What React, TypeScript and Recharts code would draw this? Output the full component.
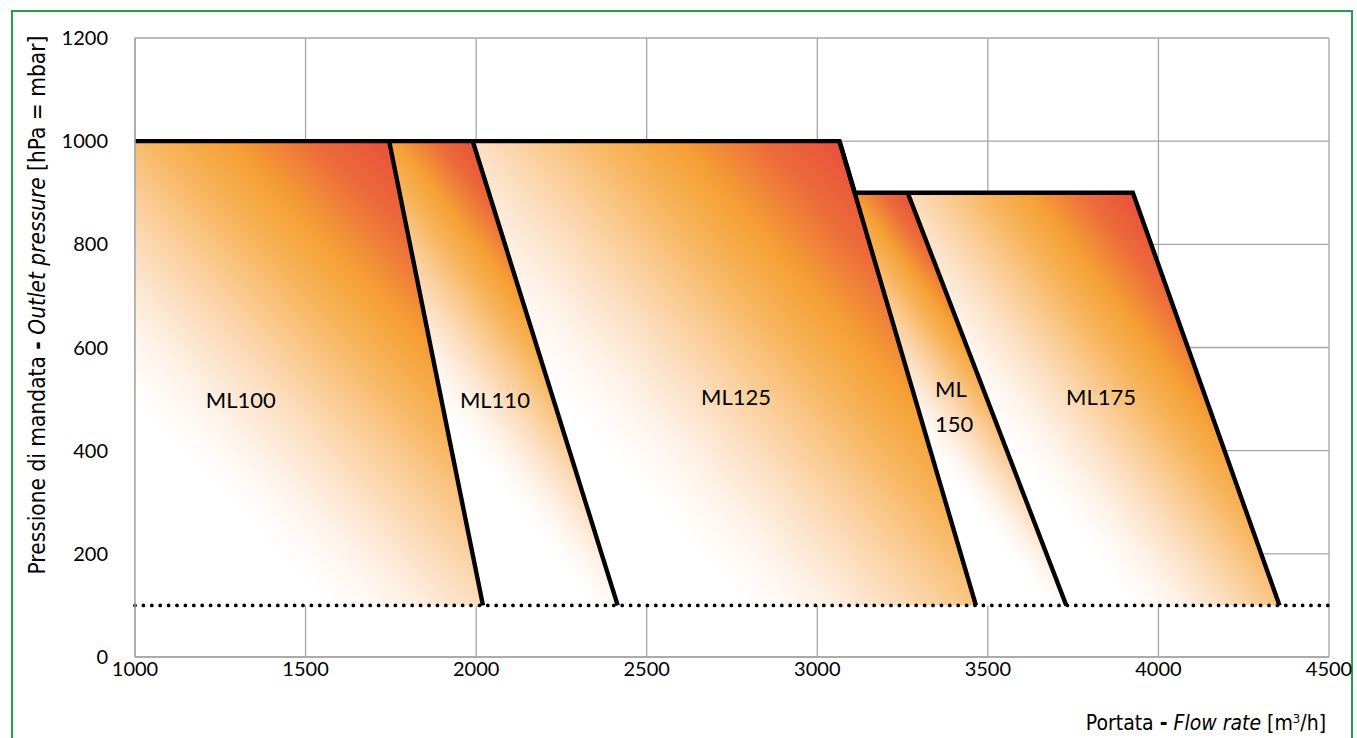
import React from 'react';
import { ComposedChart, Area, Line, XAxis, YAxis, CartesianGrid, ReferenceLine, ReferenceDot } from 'recharts';

// ---- data (m3/h, mbar) ----
const xTicks = [1000, 1500, 2000, 2500, 3000, 3500, 4000, 4500];
const yTicks = [0, 200, 400, 600, 800, 1000, 1200];
const minPressure = 100;

const ml100 = [{ x: 1000, y: 1000 }, { x: 1745, y: 1000 }, { x: 2020, y: 100 }];
const ml110 = [{ x: 1745, y: 1000 }, { x: 1990, y: 1000 }, { x: 2415, y: 100 }];
const ml125 = [{ x: 1990, y: 1000 }, { x: 3065, y: 1000 }, { x: 3465, y: 100 }];
const ml150 = [{ x: 3110, y: 900 }, { x: 3265, y: 900 }, { x: 3730, y: 100 }];
const ml175 = [{ x: 3265, y: 900 }, { x: 3925, y: 900 }, { x: 4355, y: 100 }];

const envelope = [{ x: 1000, y: 1000 }, { x: 3065, y: 1000 }, { x: 3110, y: 900 }, { x: 3925, y: 900 }, { x: 4355, y: 100 }];
const div1 = [{ x: 1745, y: 1000 }, { x: 2020, y: 100 }];
const div2 = [{ x: 1990, y: 1000 }, { x: 2415, y: 100 }];
const div3 = [{ x: 3065, y: 1000 }, { x: 3465, y: 100 }];
const div4 = [{ x: 3265, y: 900 }, { x: 3730, y: 100 }];

const modelNames = ['ML100', 'ML110', 'ML125', 'ML 150', 'ML175'];
const labelX = [1310, 2055, 2762, 3345, 3832];
const labelY = [500, 500, 505, 487, 505];

// draw order right-to-left so each area hides the overflow of the one on its right
// gradient vectors (bounding-box units), red at each shape's top-right corner
const areas = [
  { id: 'g175', data: ml175, x1: 0.606, x2: 0.113, y2: 0.429 },
  { id: 'g150', data: ml150, x1: 0.25, x2: -0.006, y2: 0.385 },
  { id: 'g125', data: ml125, x1: 0.729, x2: 0.128, y2: 0.497 },
  { id: 'g110', data: ml110, x1: 0.366, x2: 0.066, y2: 0.473 },
  { id: 'g100', data: ml100, x1: 0.73, x2: 0.183, y2: 0.707 },
];

const stops = [
  { o: 0, c: '#E8503A' },
  { o: 0.15, c: '#EC6B3A' },
  { o: 0.32, c: '#F5A035' },
  { o: 0.45, c: '#F7B35A' },
  { o: 0.58, c: '#FAC98E' },
  { o: 0.72, c: '#FCDFC2' },
  { o: 0.86, c: '#FEF3EA' },
  { o: 1, c: '#FFFFFF' },
];

const tickFont = 'Lato, "Noto Sans", sans-serif';
const titleFont = '"Liberation Sans Narrow", "DejaVu Sans Condensed", "Roboto", sans-serif';

const ModelLabel = (props: any) => {
  const { viewBox, value } = props;
  const cx = viewBox.x + (viewBox.width || 0) / 2;
  const cy = viewBox.y + (viewBox.height || 0) / 2;
  const parts = String(value).split(' ');
  if (parts.length === 1) {
    return (
      <text x={cx} y={cy} textAnchor="middle" dominantBaseline="central" fontSize={22} fontFamily={tickFont} fill="#000">
        {value}
      </text>
    );
  }
  return (
    <text x={cx} textAnchor="start" fontSize={22} fontFamily={tickFont} fill="#000">
      <tspan x={cx} y={cy - 17} dominantBaseline="central">{parts[0]}</tspan>
      <tspan x={cx} y={cy + 18} dominantBaseline="central">{parts[1]}</tspan>
    </text>
  );
};

export default function App() {
  return (
    <div style={{ position: 'absolute', left: 0, top: 0, width: 1357, height: 738, background: '#fff', overflow: 'hidden' }}>
      <div style={{ position: 'absolute', left: 11, top: 10, width: 1342, height: 760, border: '2px solid #22A04B', boxSizing: 'border-box' }} />
      <div style={{ position: 'absolute', left: 0, top: 0 }}>
        <ComposedChart width={1357} height={738} margin={{ top: 38, right: 28, left: 0, bottom: 51 }}>
          <defs>
            {areas.map((a) => (
              <linearGradient key={a.id} id={a.id} x1={a.x1} y1={0} x2={a.x2} y2={a.y2}>
                {stops.map((s, i) => (
                  <stop key={i} offset={s.o} stopColor={s.c} />
                ))}
              </linearGradient>
            ))}
          </defs>
          <CartesianGrid stroke="#A6A6A6" strokeWidth={1.3} />
          <XAxis
            type="number"
            dataKey="x"
            domain={[1000, 4500]}
            ticks={xTicks}
            allowDataOverflow
            height={30}
            tickLine={false}
            tickSize={0}
            tickMargin={5}
            axisLine={{ stroke: '#A6A6A6', strokeWidth: 1.5 }}
            tick={{ fill: '#000', fontSize: 20, fontFamily: tickFont }}
          />
          <YAxis
            type="number"
            dataKey="y"
            domain={[0, 1200]}
            ticks={yTicks}
            allowDataOverflow
            width={135}
            tickLine={false}
            tickSize={0}
            tickMargin={27}
            axisLine={{ stroke: '#A6A6A6', strokeWidth: 1.5 }}
            tick={{ fill: '#000', fontSize: 20, fontFamily: tickFont }}
          />
          {areas.map((a) => (
            <Area
              key={a.id}
              data={a.data}
              dataKey="y"
              type="linear"
              baseValue={minPressure}
              stroke="none"
              fill={`url(#${a.id})`}
              fillOpacity={1}
              dot={false}
              activeDot={false}
              isAnimationActive={false}
            />
          ))}
          <ReferenceLine y={minPressure} stroke="#000" strokeWidth={3.8} strokeDasharray="0 8.4" strokeLinecap="round" />
          {[envelope, div1, div2, div3, div4].map((d, i) => (
            <Line
              key={i}
              data={d}
              dataKey="y"
              type="linear"
              stroke="#000"
              strokeWidth={4.4}
              strokeLinejoin="miter"
              dot={false}
              activeDot={false}
              isAnimationActive={false}
            />
          ))}
          {modelNames.map((n, i) => (
            <ReferenceDot key={n} x={labelX[i]} y={labelY[i]} r={0} stroke="none" fill="none" label={<ModelLabel value={n} />} />
          ))}
        </ComposedChart>
      </div>
      <div
        style={{
          position: 'absolute',
          left: 37,
          top: 305,
          transform: 'translate(-50%, -50%) rotate(-90deg)',
          whiteSpace: 'nowrap',
          fontFamily: titleFont,
          fontSize: 22.5,
          color: '#000',
        }}
      >
        Pressione di mandata <b>-</b> <i>Outlet pressure</i> [hPa = mbar]
      </div>
      <div
        style={{
          position: 'absolute',
          right: 1357 - 1326,
          top: 705,
          whiteSpace: 'nowrap',
          fontFamily: titleFont,
          fontSize: 21,
          lineHeight: '28px',
          color: '#000',
        }}
      >
        Portata <b>-</b> <i>Flow rate</i> [m<span style={{ fontSize: 13, verticalAlign: 7 }}>3</span>/h]
      </div>
    </div>
  );
}
